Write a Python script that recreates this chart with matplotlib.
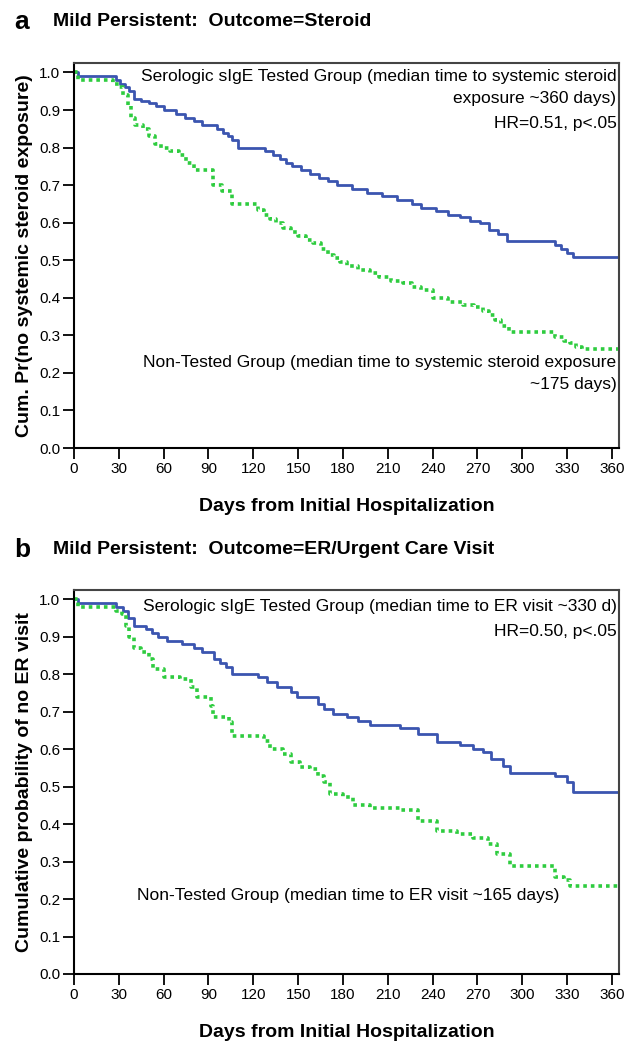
import matplotlib
matplotlib.use("Agg")
import matplotlib.pyplot as plt

# Panel a: outcome = systemic steroid
a_tested_days = [0, 3, 28, 31, 34, 37, 40, 45, 50, 55, 60, 68, 74, 80, 86, 96, 100, 103, 106, 110,
                 128, 133, 138, 142, 146, 152, 158, 164, 170, 176, 186, 196, 206, 216, 226, 232,
                 242, 250, 258, 265, 272, 278, 284, 290, 322, 326, 330, 334, 364]
a_tested_surv = [1.0, 0.99, 0.98, 0.97, 0.96, 0.95, 0.93, 0.925, 0.92, 0.91, 0.90, 0.89, 0.88, 0.87,
                 0.86, 0.85, 0.84, 0.83, 0.82, 0.80, 0.79, 0.78, 0.77, 0.76, 0.75, 0.74, 0.73, 0.72,
                 0.71, 0.70, 0.69, 0.68, 0.67, 0.66, 0.65, 0.64, 0.63, 0.62, 0.615, 0.605, 0.60,
                 0.58, 0.57, 0.55, 0.54, 0.53, 0.52, 0.51, 0.51]
a_none_days = [0, 3, 26, 30, 33, 36, 38, 41, 46, 50, 54, 58, 64, 70, 75, 80, 93, 99, 106, 123, 127,
               131, 135, 140, 145, 150, 155, 160, 165, 170, 174, 178, 183, 190, 198, 204, 212, 220,
               226, 232, 240, 250, 260, 268, 274, 278, 282, 286, 291, 322, 328, 332, 336, 340, 364]
a_none_surv = [1.0, 0.98, 0.97, 0.96, 0.94, 0.91, 0.88, 0.86, 0.85, 0.83, 0.81, 0.80, 0.79, 0.78,
               0.76, 0.74, 0.70, 0.685, 0.65, 0.635, 0.62, 0.61, 0.60, 0.585, 0.575, 0.565, 0.555,
               0.545, 0.53, 0.515, 0.505, 0.495, 0.485, 0.475, 0.465, 0.455, 0.445, 0.44, 0.43,
               0.42, 0.40, 0.39, 0.38, 0.375, 0.365, 0.355, 0.34, 0.325, 0.308, 0.295, 0.285,
               0.28, 0.27, 0.265, 0.265]

# Panel b: outcome = ER / urgent care visit
b_tested_days = [0, 3, 28, 33, 36, 40, 48, 52, 56, 62, 72, 80, 86, 94, 98, 102, 106, 123, 129, 136,
                 145, 149, 163, 167, 173, 183, 190, 198, 218, 230, 243, 258, 267, 274, 279, 287,
                 292, 322, 330, 334, 364]
b_tested_surv = [1.0, 0.99, 0.98, 0.97, 0.95, 0.93, 0.92, 0.91, 0.90, 0.89, 0.88, 0.87, 0.86, 0.84,
                 0.83, 0.82, 0.80, 0.793, 0.78, 0.767, 0.753, 0.74, 0.72, 0.708, 0.694, 0.686,
                 0.676, 0.665, 0.657, 0.641, 0.619, 0.611, 0.601, 0.592, 0.574, 0.555, 0.536,
                 0.528, 0.512, 0.485, 0.485]
b_none_days = [0, 3, 28, 32, 35, 37, 40, 45, 50, 53, 60, 71, 78, 82, 92, 93, 104, 106, 127, 131,
               140, 145, 151, 158, 163, 167, 171, 180, 187, 198, 218, 230, 243, 256, 267, 277,
               283, 292, 322, 328, 332, 364]
b_none_surv = [1.0, 0.98, 0.97, 0.96, 0.93, 0.90, 0.87, 0.86, 0.84, 0.815, 0.793, 0.788, 0.767,
               0.74, 0.716, 0.686, 0.673, 0.635, 0.622, 0.601, 0.587, 0.566, 0.552, 0.547, 0.528,
               0.512, 0.48, 0.472, 0.45, 0.442, 0.437, 0.408, 0.381, 0.373, 0.362, 0.346, 0.319,
               0.287, 0.26, 0.25, 0.236, 0.236]

x_ticks = list(range(0, 361, 30))
y_ticks = [i / 10 for i in range(11)]

BLUE = "#3b55b0"
GREEN = "#2ecc3f"
NARROW = ["Liberation Sans Narrow", "Liberation Sans", "DejaVu Sans"]
plt.rcParams["font.family"] = ["Liberation Sans", "DejaVu Sans"]

fig = plt.figure(figsize=(6.35, 10.41), dpi=100)


def km_panel(ax, tested, none, ylabel, texts):
    ax.step(tested[0], tested[1], where="post", color=BLUE, lw=2.0)
    ax.step(none[0], none[1], where="post", color=GREEN, lw=2.6,
            linestyle=(0, (1.0, 1.1)))
    ax.set_xlim(0, 365)
    ax.set_ylim(0, 1.025)
    ax.set_xticks(x_ticks)
    ax.set_yticks(y_ticks)
    ax.set_yticklabels([f"{v:.1f}" for v in y_ticks])
    ax.tick_params(labelsize=11, length=8, width=1.3, direction="out",
                   top=False, right=False, pad=2)
    for side in ["left", "bottom"]:
        ax.spines[side].set_linewidth(1.5)
        ax.spines[side].set_color("black")
    for side in ["top", "right"]:
        ax.spines[side].set_linewidth(1.5)
        ax.spines[side].set_color("#444444")
    ax.set_xlabel("Days from Initial Hospitalization", family=NARROW,
                  fontweight="bold", fontsize=14, labelpad=16)
    ax.set_ylabel(ylabel, family=NARROW, fontweight="bold", fontsize=14, labelpad=4)
    for x, y, s in texts:
        ax.text(x, y, s, ha="right", va="center", fontsize=12.5)


ax1 = fig.add_axes([0.1165, 0.5696, 0.859, 0.3698])
km_panel(ax1, (a_tested_days, a_tested_surv), (a_none_days, a_none_surv),
         "Cum. Pr(no systemic steroid exposure)",
         [(363, 0.99, "Serologic sIgE Tested Group (median time to systemic steroid"),
          (363, 0.93, "exposure ~360 days)"),
          (363, 0.865, "HR=0.51, p<.05"),
          (363, 0.228, "Non-Tested Group (median time to systemic steroid exposure"),
          (363, 0.168, "~175 days)")])

ax2 = fig.add_axes([0.1165, 0.0644, 0.859, 0.3688])
km_panel(ax2, (b_tested_days, b_tested_surv), (b_none_days, b_none_surv),
         "Cumulative probability of no ER visit",
         [(363, 0.982, "Serologic sIgE Tested Group (median time to ER visit ~330 d)"),
          (363, 0.915, "HR=0.50, p<.05"),
          (325, 0.21, "Non-Tested Group (median time to ER visit ~165 days)")])

fig.text(0.022, 1 - 22 / 1041, "a", fontsize=19, fontweight="bold", va="center")
fig.text(0.083, 1 - 22 / 1041, "Mild Persistent:  Outcome=Steroid", family=NARROW,
         fontsize=14, fontweight="bold", va="center")
fig.text(0.022, 1 - 550 / 1041, "b", fontsize=19, fontweight="bold", va="center")
fig.text(0.083, 1 - 550 / 1041, "Mild Persistent:  Outcome=ER/Urgent Care Visit", family=NARROW,
         fontsize=14, fontweight="bold", va="center")

fig.savefig("out.png", dpi=100)
